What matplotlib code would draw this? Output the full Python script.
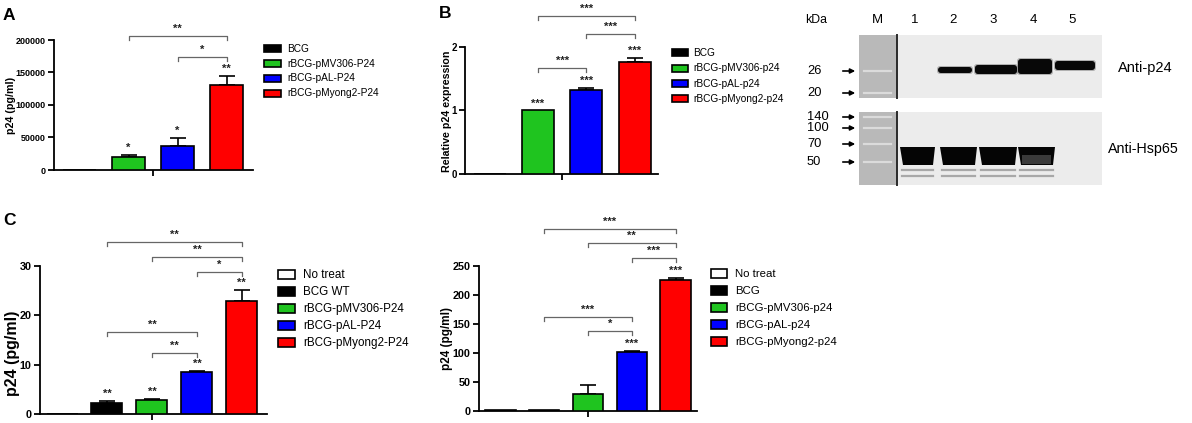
import matplotlib
matplotlib.use("Agg")
import matplotlib.pyplot as plt
from matplotlib.patches import Rectangle, FancyBboxPatch, Polygon

plt.rcParams["font.family"] = ["Liberation Sans", "DejaVu Sans"]

W, H = 1192, 423
GREEN, BLUE, RED = "#1fc41f", "#0000ff", "#ff0000"

# ---- Panel A: p24 (pg/ml) ----
a_groups = ["BCG", "rBCG-pMV306-P24", "rBCG-pAL-P24", "rBCG-pMyong2-P24"]
a_means = [0, 20000, 37000, 131000]
a_errs = [0, 2500, 12000, 14000]
a_colors = ["black", GREEN, BLUE, RED]
a_stars = ["", "*", "*", "**"]
a_brackets = [(1, 3, 206000, "**"), (2, 3, 174000, "*")]
a_yticks = [0, 50000, 100000, 150000, 200000]

# ---- Panel B: relative p24 expression ----
b_groups = ["BCG", "rBCG-pMV306-p24", "rBCG-pAL-p24", "rBCG-pMyong2-p24"]
b_means = [0, 1.0, 1.32, 1.77]
b_errs = [0, 0.0, 0.03, 0.06]
b_colors = ["black", GREEN, BLUE, RED]
b_stars = ["", "***", "***", "***"]
b_brackets = [(1, 2, 1.67, "***"), (1, 3, 2.49, "***"), (2, 3, 2.20, "***")]
b_yticks = [0, 1, 2]

# ---- Panel C (left) ----
c1_groups = ["No treat", "BCG WT", "rBCG-pMV306-P24", "rBCG-pAL-P24", "rBCG-pMyong2-P24"]
c1_means = [0, 2.3, 2.8, 8.5, 23.0]
c1_errs = [0, 0.3, 0.25, 0.3, 2.1]
c1_colors = ["white", "black", GREEN, BLUE, RED]
c1_stars = ["", "**", "**", "**", "**"]
c1_brackets = [(1, 4, 34.9, "**"), (2, 4, 31.8, "**"), (3, 4, 28.8, "*"),
               (1, 3, 16.6, "**"), (2, 3, 12.4, "**")]
c1_yticks = [0, 10, 20, 30]

# ---- Panel C (right) ----
c2_groups = ["No treat", "BCG", "rBCG-pMV306-p24", "rBCG-pAL-p24", "rBCG-pMyong2-p24"]
c2_means = [2.5, 2.5, 30, 101, 226]
c2_errs = [0, 0, 14, 3, 4]
c2_colors = ["white", "black", GREEN, BLUE, RED]
c2_stars = ["", "", "", "***", "***"]
c2_brackets = [(1, 4, 314, "***"), (2, 4, 290, "**"), (3, 4, 264, "***"),
               (1, 3, 162, "***"), (2, 3, 138, "*")]
c2_yticks = [0, 50, 100, 150, 200, 250]

fig = plt.figure(figsize=(W / 100, H / 100), dpi=100)
ov = fig.add_axes([0, 0, 1, 1], zorder=0)
ov.set_xlim(0, W)
ov.set_ylim(H, 0)
ov.axis("off")


def bar_panel(box, xlim, mid, means, errs, colors, stars, brackets, yticks,
              tick_fs, width, star_fs=8):
    x0, y0, x1, y1 = box
    ax = fig.add_axes([x0 / W, 1 - y1 / H, (x1 - x0) / W, (y1 - y0) / H], zorder=2)
    ax.patch.set_alpha(0)
    pos = list(range(len(means)))
    ax.bar(pos, means, width=width, color=colors, edgecolor="black",
           linewidth=1.2, zorder=3)
    for p, m, e in zip(pos, means, errs):
        if e > 0:
            ax.errorbar([p], [m], yerr=[[0], [e]], fmt="none", ecolor="black",
                        elinewidth=1.2, capsize=6, capthick=1.2, zorder=2)
    for p, m, e, s in zip(pos, means, errs, stars):
        if s:
            ax.annotate(s, (p, m + e), xytext=(0, 1.5), textcoords="offset points",
                        ha="center", va="bottom", fontsize=star_fs,
                        fontweight="bold", color="#222222")
    ymax = yticks[-1]
    drop = ymax * 4.0 / (y1 - y0)
    for i, j, yb, s in brackets:
        ax.plot([i, i, j, j], [yb - drop, yb, yb, yb - drop], color="#666666",
                lw=0.9, clip_on=False, zorder=4)
        ax.annotate(s, ((i + j) / 2, yb), xytext=(0, 1.5), textcoords="offset points",
                    ha="center", va="bottom", fontsize=star_fs,
                    fontweight="bold", color="#222222", annotation_clip=False)
    ax.set_xlim(*xlim)
    ax.set_ylim(0, ymax)
    ax.set_yticks(yticks)
    ax.set_yticklabels([f"{t:g}" if t < 1e5 else f"{int(t)}" for t in yticks],
                       fontsize=tick_fs, fontweight="bold")
    ax.set_xticks([mid])
    ax.set_xticklabels([])
    for side in ("top", "right"):
        ax.spines[side].set_visible(False)
    for side in ("left", "bottom"):
        ax.spines[side].set_linewidth(1.3)
    ax.tick_params(direction="out", length=4, width=1.3, pad=2)
    return ax


def legend(groups, colors, lx, ly, dy, pw, ph, tx, fs):
    for k, (g, c) in enumerate(zip(groups, colors)):
        y = ly + k * dy
        ov.add_patch(Rectangle((lx, y - ph / 2), pw, ph, fc=c, ec="black", lw=1.2))
        ov.text(tx, y, g, fontsize=fs, va="center", ha="left")


bar_panel((54, 40, 253, 170), (-0.52, 3.54), 1.5, a_means, a_errs, a_colors,
          a_stars, a_brackets, a_yticks, 6.5, 0.67)
bar_panel((465, 47, 658, 174), (-0.51, 3.48), 1.5, b_means, b_errs, b_colors,
          b_stars, b_brackets, b_yticks, 7, 0.66)
bar_panel((40, 266, 267, 414), (-0.49, 4.56), 2, c1_means, c1_errs, c1_colors,
          c1_stars, c1_brackets, c1_yticks, 7.8, 0.69)
bar_panel((479, 266, 697, 411), (-0.49, 4.49), 2, c2_means, c2_errs, c2_colors,
          c2_stars, c2_brackets, c2_yticks, 7.8, 0.69)

legend(a_groups, a_colors, 264, 49, 14.7, 17, 7, 287, 7.3)
legend(b_groups, b_colors, 672, 53, 15.3, 16, 7, 693, 7.3)
legend(c1_groups, c1_colors, 278, 275, 17, 17, 9, 303, 8.4)
legend(c2_groups, c2_colors, 711, 274, 17, 16, 9, 735, 8.2)

# y labels
ov.text(11, 105, "p24 (pg/ml)", rotation=90, ha="center", va="center",
        fontsize=7.7, fontweight="bold")
ov.text(447, 111, "Relative p24 expression", rotation=90, ha="center",
        va="center", fontsize=7.7, fontweight="bold")
ov.text(13, 353, "p24 (pg/ml)", rotation=90, ha="center", va="center",
        fontsize=11.5, fontweight="bold")
ov.text(447, 338, "p24 (pg/ml)", rotation=90, ha="center", va="center",
        fontsize=8.5, fontweight="bold")

# panel letters
for letter, lx, ly in [("A", 3, 20), ("B", 439, 18), ("C", 3, 225)]:
    ov.text(lx, ly, letter, fontsize=12.5, fontweight="bold", ha="left",
            va="baseline")

# ---- Western blot ----
lane_labels = ["M", "1", "2", "3", "4", "5"]
lane_x = [877, 915, 953, 993, 1033, 1072]
ov.text(816, 20, "kDa", fontsize=8.8, ha="center", va="center")
for lab, x in zip(lane_labels, lane_x):
    ov.text(x, 20, lab, fontsize=9.5, ha="center", va="center")

upper_mw = ["26", "20"]
upper_mw_y = [71, 93]
lower_mw = ["140", "100", "70", "50"]
lower_mw_y = [117, 128, 144, 162]

for top, bot in [(35, 98), (112, 185)]:
    ov.add_patch(Rectangle((897, top), 205, bot - top, fc="#ececec", ec="none"))
    ov.add_patch(Rectangle((859, top), 38, bot - top, fc="#b9b9b9", ec="none"))
    ov.plot([897, 897], [top, bot], color="#2a2a2a", lw=1.4)

for lab, y in list(zip(upper_mw, upper_mw_y)) + list(zip(lower_mw, lower_mw_y)):
    ov.text(807, y, lab, fontsize=9.3, ha="left", va="center")
    ov.annotate("", xy=(858, y), xytext=(840, y),
                arrowprops=dict(arrowstyle="-|>", color="black", lw=1.2,
                                mutation_scale=7))
    ov.plot([864, 891], [y, y], color="#e4e4e4", lw=1.6, alpha=0.8)

# anti-p24 bands: (x0, x1, y0, y1)
p24_bands = [(938, 972, 67, 73), (975, 1017, 65, 74), (1018, 1052, 59, 74),
             (1055, 1095, 61, 70)]
for bx0, bx1, by0, by1 in p24_bands:
    ov.add_patch(FancyBboxPatch((bx0 - 1, by0 - 1), bx1 - bx0 + 2, by1 - by0 + 2,
                                boxstyle="round,pad=0,rounding_size=3",
                                fc="#777777", ec="none", alpha=0.5))
    ov.add_patch(FancyBboxPatch((bx0, by0), bx1 - bx0, by1 - by0,
                                boxstyle="round,pad=0,rounding_size=3",
                                fc="#080808", ec="none"))

# anti-Hsp65 bands
hsp_bands = [(900, 935), (940, 977), (979, 1017), (1018, 1055)]
for k, (bx0, bx1) in enumerate(hsp_bands):
    ov.add_patch(Polygon([(bx0, 147), (bx1, 147), (bx1 - 2, 165), (bx0 + 3, 165)],
                         closed=True, fc="#050505", ec="none"))
    if k == 3:
        ov.add_patch(Rectangle((bx0 + 4, 155), bx1 - bx0 - 8, 9, fc="#3a3a3a",
                               ec="none"))
    for yy in (170, 176):
        ov.plot([bx0 + 2, bx1 - 2], [yy, yy], color="#a8a8a8", lw=1.6)

ov.text(1118, 68, "Anti-p24", fontsize=10.5, ha="left", va="center")
ov.text(1108, 149, "Anti-Hsp65", fontsize=10.3, ha="left", va="center")

fig.savefig("out.png", dpi=100)
